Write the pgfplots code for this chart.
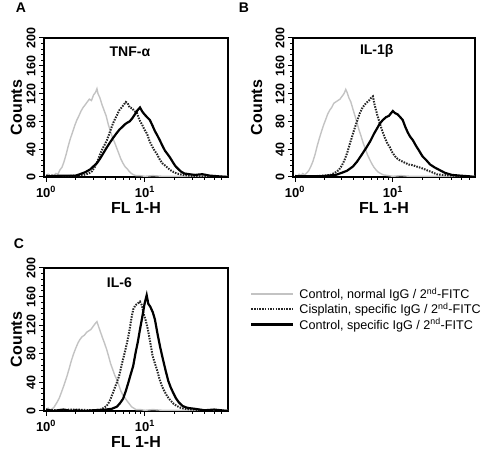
\documentclass[border=0pt]{standalone}
\usepackage{pgfplots}
\pgfplotsset{compat=1.18}
\usepackage{fontspec}
\setmainfont{Liberation Sans}
\definecolor{ctrlgray}{RGB}{195,195,195}
\tikzset{
  gr/.style={color=ctrlgray, line width=1.4pt},
  dt/.style={color=black!85, line width=2pt, dash pattern=on 1.5pt off 1.2pt},
  sl/.style={color=black, line width=2.2pt},
}
\begin{document}
\begin{tikzpicture}[x=1pt,y=1pt]
\path[use as bounding box] (0,0) rectangle (488,450);
% Panel A
\begin{semilogxaxis}[
    scale only axis,
    anchor=south west,
    at={(44pt,273pt)}, width=184pt, height=139pt,
    xmin=0.954, xmax=69,
    ymin=0, ymax=200,
    xtick={1,10},
    xticklabels={\textbf{10}\textsuperscript{\textbf{0}},\textbf{10}\textsuperscript{\textbf{1}}},
    minor xtick={2,3,4,5,6,7,8,9,20,30,40,50,60},
    ytick={0,40,80,120,160,200},
    yticklabels={0,40,80,120,160,200},
    minor ytick={8,16,...,200},
    tick pos=left,
    tick align=outside,
    major tick length=5pt,
    minor tick length=3pt,
    tick style={black, line width=1pt},
    axis line style={line width=1.8pt},
    xticklabel style={font=\fontsize{13}{14}\selectfont\bfseries, yshift=-1pt},
    yticklabel style={font=\fontsize{12.5}{13}\selectfont\bfseries, rotate=90, anchor=south},
    ylabel={Counts},
    ylabel style={font=\fontsize{16}{17}\selectfont\bfseries, at={(axis description cs:-0.15,0.5)}, anchor=center},
    xlabel={FL 1-H},
    xlabel style={font=\fontsize{16}{17}\selectfont\bfseries, at={(axis description cs:0.5,-0.225)}, anchor=center},
]
\addplot[gr] coordinates {(1.0,2)(1.05,4)(1.1,1)(1.15,3)(1.2,2)(1.26,5)(1.32,4)(1.38,10)(1.45,14)(1.52,22)(1.6,33)(1.68,45)(1.76,55)(1.85,64)(1.95,74)(2.05,82)(2.15,88)(2.26,95)(2.37,100)(2.49,104)(2.61,108)(2.74,112)(2.88,110)(3.02,118)(3.17,122)(3.27,127)(3.35,120)(3.5,114)(3.68,104)(3.86,96)(4.05,88)(4.25,76)(4.47,66)(4.69,57)(4.92,50)(5.17,42)(5.43,34)(5.7,26)(5.98,20)(6.28,15)(6.6,12)(6.93,8)(7.3,5)(7.7,3)(8.1,2)(8.9,2)(10,1)(12,2)(15,1)(20,1)(30,1)(45,0)(69,1)};
\addplot[dt] coordinates {(1,2)(1.5,1)(2,2)(2.4,3)(2.7,5)(2.9,8)(3.1,14)(3.3,22)(3.5,32)(3.7,40)(3.9,46)(4.1,52)(4.3,60)(4.5,68)(4.75,77)(5.0,84)(5.25,90)(5.5,96)(5.8,100)(6.1,104)(6.4,108)(6.7,106)(7.0,100)(7.4,99)(7.8,95)(8.3,92)(8.8,82)(9.3,76)(9.9,68)(10.5,62)(11.1,52)(11.8,44)(12.5,38)(13.2,33)(14,26)(14.9,20)(15.8,17)(16.7,14)(18,10)(19.5,7)(21,5)(24,3)(28,2)(35,1)(50,1)(69,0)};
\addplot[sl] coordinates {(1,1)(1.5,2)(2,2)(2.2,4)(2.5,7)(2.8,11)(3.05,16)(3.27,20)(3.5,26)(3.75,33)(4.05,41)(4.4,49)(4.75,56)(5.1,62)(5.5,68)(5.9,72)(6.3,76)(6.6,78)(7.0,80)(7.4,84)(7.9,90)(8.4,96)(8.9,100)(9.4,94)(9.9,90)(10.5,86)(11.2,82)(11.9,74)(12.6,66)(13.3,60)(14.1,53)(15,45)(15.9,38)(16.9,33)(17.9,28)(19,22)(20.2,16)(21.5,12)(23,8)(25,5)(28,4)(32,3)(38,4)(45,2)(55,1)(69,0)};
\node[font=\fontsize{14}{15}\selectfont\bfseries] at (axis description cs:0.467,0.9) {TNF-α};
\end{semilogxaxis}
% Panel B
\begin{semilogxaxis}[
    scale only axis,
    anchor=south west,
    at={(293pt,273pt)}, width=182pt, height=139pt,
    xmin=0.954, xmax=69,
    ymin=0, ymax=200,
    xtick={1,10},
    xticklabels={\textbf{10}\textsuperscript{\textbf{0}},\textbf{10}\textsuperscript{\textbf{1}}},
    minor xtick={2,3,4,5,6,7,8,9,20,30,40,50,60},
    ytick={0,40,80,120,160,200},
    yticklabels={0,40,80,120,160,200},
    minor ytick={8,16,...,200},
    tick pos=left,
    tick align=outside,
    major tick length=5pt,
    minor tick length=3pt,
    tick style={black, line width=1pt},
    axis line style={line width=1.8pt},
    xticklabel style={font=\fontsize{13}{14}\selectfont\bfseries, yshift=-1pt},
    yticklabel style={font=\fontsize{12.5}{13}\selectfont\bfseries, rotate=90, anchor=south},
    ylabel={Counts},
    ylabel style={font=\fontsize{16}{17}\selectfont\bfseries, at={(axis description cs:-0.2,0.5)}, anchor=center},
    xlabel={FL 1-H},
    xlabel style={font=\fontsize{16}{17}\selectfont\bfseries, at={(axis description cs:0.5,-0.225)}, anchor=center},
]
\addplot[gr] coordinates {(1.0,3)(1.05,1)(1.1,4)(1.15,2)(1.2,5)(1.26,3)(1.32,6)(1.38,9)(1.45,15)(1.52,22)(1.6,32)(1.68,44)(1.76,54)(1.85,64)(1.95,74)(2.05,82)(2.15,90)(2.26,96)(2.37,100)(2.49,106)(2.61,108)(2.74,110)(2.88,112)(3.02,116)(3.17,120)(3.3,126)(3.4,122)(3.55,114)(3.72,108)(3.9,98)(4.1,88)(4.3,78)(4.5,68)(4.75,58)(5.0,48)(5.25,40)(5.5,32)(5.8,25)(6.1,19)(6.4,14)(6.75,10)(7.1,7)(7.5,5)(8,3)(9,2)(10,1)(12,2)(15,1)(20,1)(30,1)(45,0)(69,1)};
\addplot[dt] coordinates {(1,1)(1.5,1)(2,2)(2.3,3)(2.55,6)(2.8,10)(3.0,16)(3.2,24)(3.4,34)(3.64,48)(3.9,62)(4.2,76)(4.6,92)(4.9,100)(5.3,106)(5.7,110)(6.0,114)(6.25,116)(6.5,104)(6.9,90)(7.36,77)(7.8,66)(8.3,56)(8.8,48)(9.3,43)(9.9,35)(10.5,30)(11.2,26)(11.8,24)(12.6,22)(13.5,20)(14.5,18)(16,17)(17.5,15)(19.5,13)(22,10)(25,7)(28,4)(32,3)(40,2)(50,1)(69,0)};
\addplot[sl] coordinates {(1,1)(1.8,1)(2.2,2)(2.6,3)(3.0,6)(3.4,9)(3.9,15)(4.3,22)(4.8,32)(5.4,43)(5.9,52)(6.4,62)(6.9,70)(7.36,77)(7.9,82)(8.5,86)(9.1,88)(9.6,92)(10,95)(10.5,92)(11.2,90)(11.9,86)(12.6,82)(13.4,72)(14.2,64)(15,58)(16,53)(17.2,45)(18.5,38)(20,30)(22,24)(24,18)(26.5,14)(30,10)(34,6)(40,3)(48,2)(60,1)(69,0)};
\node[font=\fontsize{14}{15}\selectfont\bfseries] at (axis description cs:0.46,0.91) {IL-1β};
\end{semilogxaxis}
% Panel C
\begin{semilogxaxis}[
    scale only axis,
    anchor=south west,
    at={(44pt,39pt)}, width=184pt, height=143pt,
    xmin=0.954, xmax=69,
    ymin=0, ymax=200,
    xtick={1,10},
    xticklabels={\textbf{10}\textsuperscript{\textbf{0}},\textbf{10}\textsuperscript{\textbf{1}}},
    minor xtick={2,3,4,5,6,7,8,9,20,30,40,50,60},
    ytick={0,40,80,120,160,200},
    yticklabels={0,40,80,120,160,200},
    minor ytick={8,16,...,200},
    tick pos=left,
    tick align=outside,
    major tick length=5pt,
    minor tick length=3pt,
    tick style={black, line width=1pt},
    axis line style={line width=1.8pt},
    xticklabel style={font=\fontsize{13}{14}\selectfont\bfseries, yshift=-1pt},
    yticklabel style={font=\fontsize{12.5}{13}\selectfont\bfseries, rotate=90, anchor=south},
    ylabel={Counts},
    ylabel style={font=\fontsize{16}{17}\selectfont\bfseries, at={(axis description cs:-0.15,0.5)}, anchor=center},
    xlabel={FL 1-H},
    xlabel style={font=\fontsize{16}{17}\selectfont\bfseries, at={(axis description cs:0.5,-0.22)}, anchor=center},
    legend style={at={(axis description cs:1.12,0.87)}, anchor=north west, draw=none, fill=none,
      font=\fontsize{12.6}{13}\selectfont, inner sep=0pt, row sep=1pt,
      nodes={inner sep=1pt},
      /tikz/every odd column/.append style={column sep=4pt}},
    legend cell align=left,
    legend image code/.code={\draw[#1] (0pt,0pt) -- (42pt,0pt);},
]
\addplot[gr] coordinates {(1.0,2)(1.05,4)(1.1,1)(1.15,3)(1.2,5)(1.29,12)(1.36,18)(1.43,26)(1.5,34)(1.57,42)(1.63,49)(1.72,60)(1.8,70)(1.9,80)(2.0,88)(2.1,95)(2.2,100)(2.32,104)(2.44,106)(2.57,110)(2.7,112)(2.84,114)(2.98,118)(3.13,122)(3.27,125)(3.4,118)(3.56,110)(3.73,102)(3.92,94)(4.1,86)(4.3,76)(4.5,66)(4.72,58)(4.95,50)(5.2,44)(5.45,36)(5.7,28)(6.0,22)(6.3,18)(6.6,14)(6.95,10)(7.3,6)(7.7,4)(8.1,2)(9,2)(10,1)(12,2)(15,1)(20,1)(30,1)(45,0)(69,1)};
\addplot[dt] coordinates {(1,1)(2,2)(3,1)(3.6,2)(4.1,7)(4.4,14)(4.7,24)(5.0,34)(5.2,40)(5.5,50)(5.8,64)(6.2,80)(6.6,96)(7.0,114)(7.3,130)(7.6,142)(8.0,148)(8.4,150)(8.9,153)(9.3,148)(9.7,136)(10.2,126)(10.7,114)(11.3,96)(11.9,78)(12.5,68)(13.2,58)(14,45)(14.9,34)(15.8,27)(16.7,21)(18,15)(19.5,10)(21,7)(22.5,5)(25,3)(30,2)(40,1)(69,0)};
\addplot[sl] coordinates {(1,2)(1.2,0)(1.5,2)(1.8,0)(2,1)(2.5,0)(3,1)(4,2)(4.6,3)(5.2,6)(5.6,11)(6.0,17)(6.4,28)(6.8,40)(7.2,52)(7.6,63)(8.0,80)(8.5,98)(8.9,114)(9.4,132)(9.9,150)(10.4,162)(10.8,150)(11.3,146)(12.0,138)(12.6,128)(13.3,110)(14.2,90)(15.2,72)(16.2,56)(17.2,42)(18.2,33)(19.2,26)(20.5,18)(22,12)(24,7)(26,5)(28,4)(32,3)(40,1)(50,2)(69,0)};
\legend{{Control, normal IgG / 2\textsuperscript{nd}-FITC},{Cisplatin, specific IgG / 2\textsuperscript{nd}-FITC},{Control, specific IgG / 2\textsuperscript{nd}-FITC}}
\node[font=\fontsize{14}{15}\selectfont\bfseries] at (axis description cs:0.41,0.895) {IL-6};
\end{semilogxaxis}
\node[font=\fontsize{14}{15}\selectfont\bfseries] at (21,442) {A};
\node[font=\fontsize{14}{15}\selectfont\bfseries] at (244,442) {B};
\node[font=\fontsize{14}{15}\selectfont\bfseries] at (19,206) {C};
\end{tikzpicture}
\end{document}
